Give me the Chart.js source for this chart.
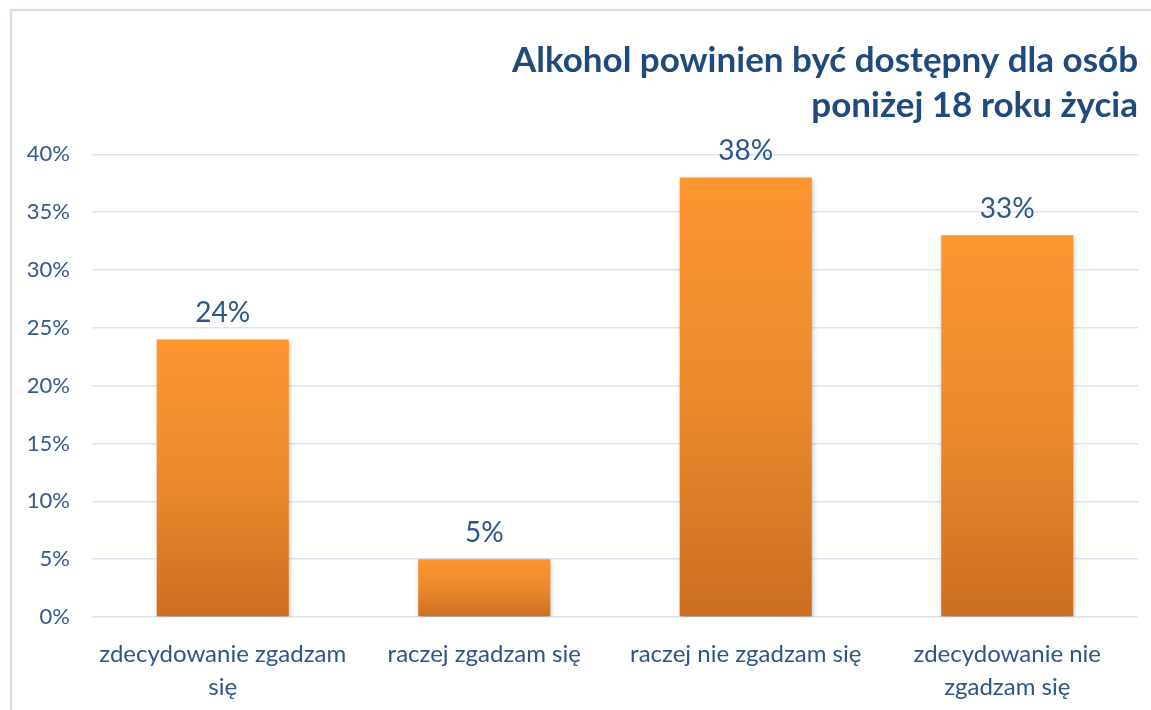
<!DOCTYPE html>
<html>
<head>
<meta charset="utf-8">
<script src="https://cdn.jsdelivr.net/npm/chart.js@4.4.0/dist/chart.umd.min.js"></script>
<style>
  body { margin: 0; background: #fff; }
  #wrap { width: 1151px; height: 710px; position: relative; }
</style>
</head>
<body>
<div id="wrap"><canvas id="alkoholChart"></canvas></div>
<script>
    // Chart data
    const categories = [
        ['zdecydowanie zgadzam', 'się'],
        ['raczej zgadzam się'],
        ['raczej nie zgadzam się'],
        ['zdecydowanie nie', 'zgadzam się']
    ];
    const percentValues = [24, 5, 38, 33];
    const yTicks = [0, 5, 10, 15, 20, 25, 30, 35, 40];
    const titleLines = ['Alkohol powinien być dostępny dla osób', 'poniżej 18 roku życia'];

    const textBlue = '#2E5587';
    const fontName = 'Lato, "Open Sans", sans-serif';

    // light frame round the chart
    const framePlugin = {
        id: 'frame',
        beforeDraw(chart) {
            const c = chart.ctx;
            c.save();
            c.strokeStyle = '#D5E0EE';
            c.lineWidth = 2.5;
            c.beginPath();
            c.moveTo(11, 720);
            c.lineTo(11, 10);
            c.lineTo(1160, 10);
            c.stroke();
            c.restore();
        }
    };

    // soft shadow under the bars
    const shadowPlugin = {
        id: 'barShadow',
        beforeDatasetsDraw(chart) {
            const c = chart.ctx;
            c.save();
            c.shadowColor = 'rgba(0,0,0,0.3)';
            c.shadowBlur = 5;
            c.shadowOffsetX = 1;
            c.shadowOffsetY = 2;
        },
        afterDatasetsDraw(chart) {
            chart.ctx.restore();
        }
    };

    // value labels above the bars
    const valueLabels = {
        id: 'valueLabels',
        afterDatasetsDraw(chart) {
            const c = chart.ctx;
            const meta = chart.getDatasetMeta(0);
            c.save();
            c.font = '28px ' + fontName;
            c.fillStyle = textBlue;
            c.textAlign = 'center';
            c.textBaseline = 'bottom';
            meta.data.forEach((bar, i) => {
                c.fillText(percentValues[i] + '%', bar.x, bar.y - 12);
            });
            c.restore();
        }
    };

    function barGradient(context) {
        const chart = context.chart;
        const area = chart.chartArea;
        if (!area) return '#F7922F';
        const yScale = chart.scales.y;
        const v = percentValues[context.dataIndex];
        const top = yScale.getPixelForValue(v);
        const bottom = yScale.getPixelForValue(0);
        const g = chart.ctx.createLinearGradient(0, top, 0, bottom);
        g.addColorStop(0, '#FD9530');
        g.addColorStop(0.5, '#EB8A2C');
        g.addColorStop(1, '#CC6E22');
        return g;
    }

    const ctx = document.getElementById('alkoholChart').getContext('2d');
    new Chart(ctx, {
        type: 'bar',
        data: {
            labels: categories,
            datasets: [{
                data: percentValues,
                backgroundColor: barGradient,
                borderWidth: 0,
                barPercentage: 0.505,
                categoryPercentage: 1.0
            }]
        },
        options: {
            responsive: true,
            maintainAspectRatio: false,
            animation: false,
            layout: { padding: { left: 0, right: 13, top: 38, bottom: 0 } },
            plugins: {
                legend: { display: false },
                tooltip: { enabled: false },
                title: {
                    display: true,
                    text: titleLines,
                    align: 'end',
                    color: '#1F4A7E',
                    font: { family: fontName, size: 35, weight: 'bold', lineHeight: 1.29 },
                    padding: { top: 0, bottom: 26 }
                }
            },
            scales: {
                x: {
                    grid: { display: false },
                    border: { display: false },
                    afterFit(axis) { axis.height = 93; },
                    ticks: {
                        color: textBlue,
                        font: { family: fontName, size: 24, lineHeight: 1.38 },
                        padding: 13,
                        maxRotation: 0,
                        autoSkip: false
                    }
                },
                y: {
                    min: 0,
                    max: 40,
                    afterBuildTicks(axis) {
                        axis.ticks = yTicks.map(v => ({ value: v }));
                    },
                    afterFit(axis) { axis.width = 92; },
                    grid: { color: '#DAE5F2', lineWidth: 1.5, drawTicks: false },
                    border: { display: false },
                    ticks: {
                        color: '#34598C',
                        font: { family: fontName, size: 22 },
                        padding: 22,
                        callback: v => v + '%'
                    }
                }
            }
        },
        plugins: [framePlugin, shadowPlugin, valueLabels]
    });
</script>
</body>
</html>
